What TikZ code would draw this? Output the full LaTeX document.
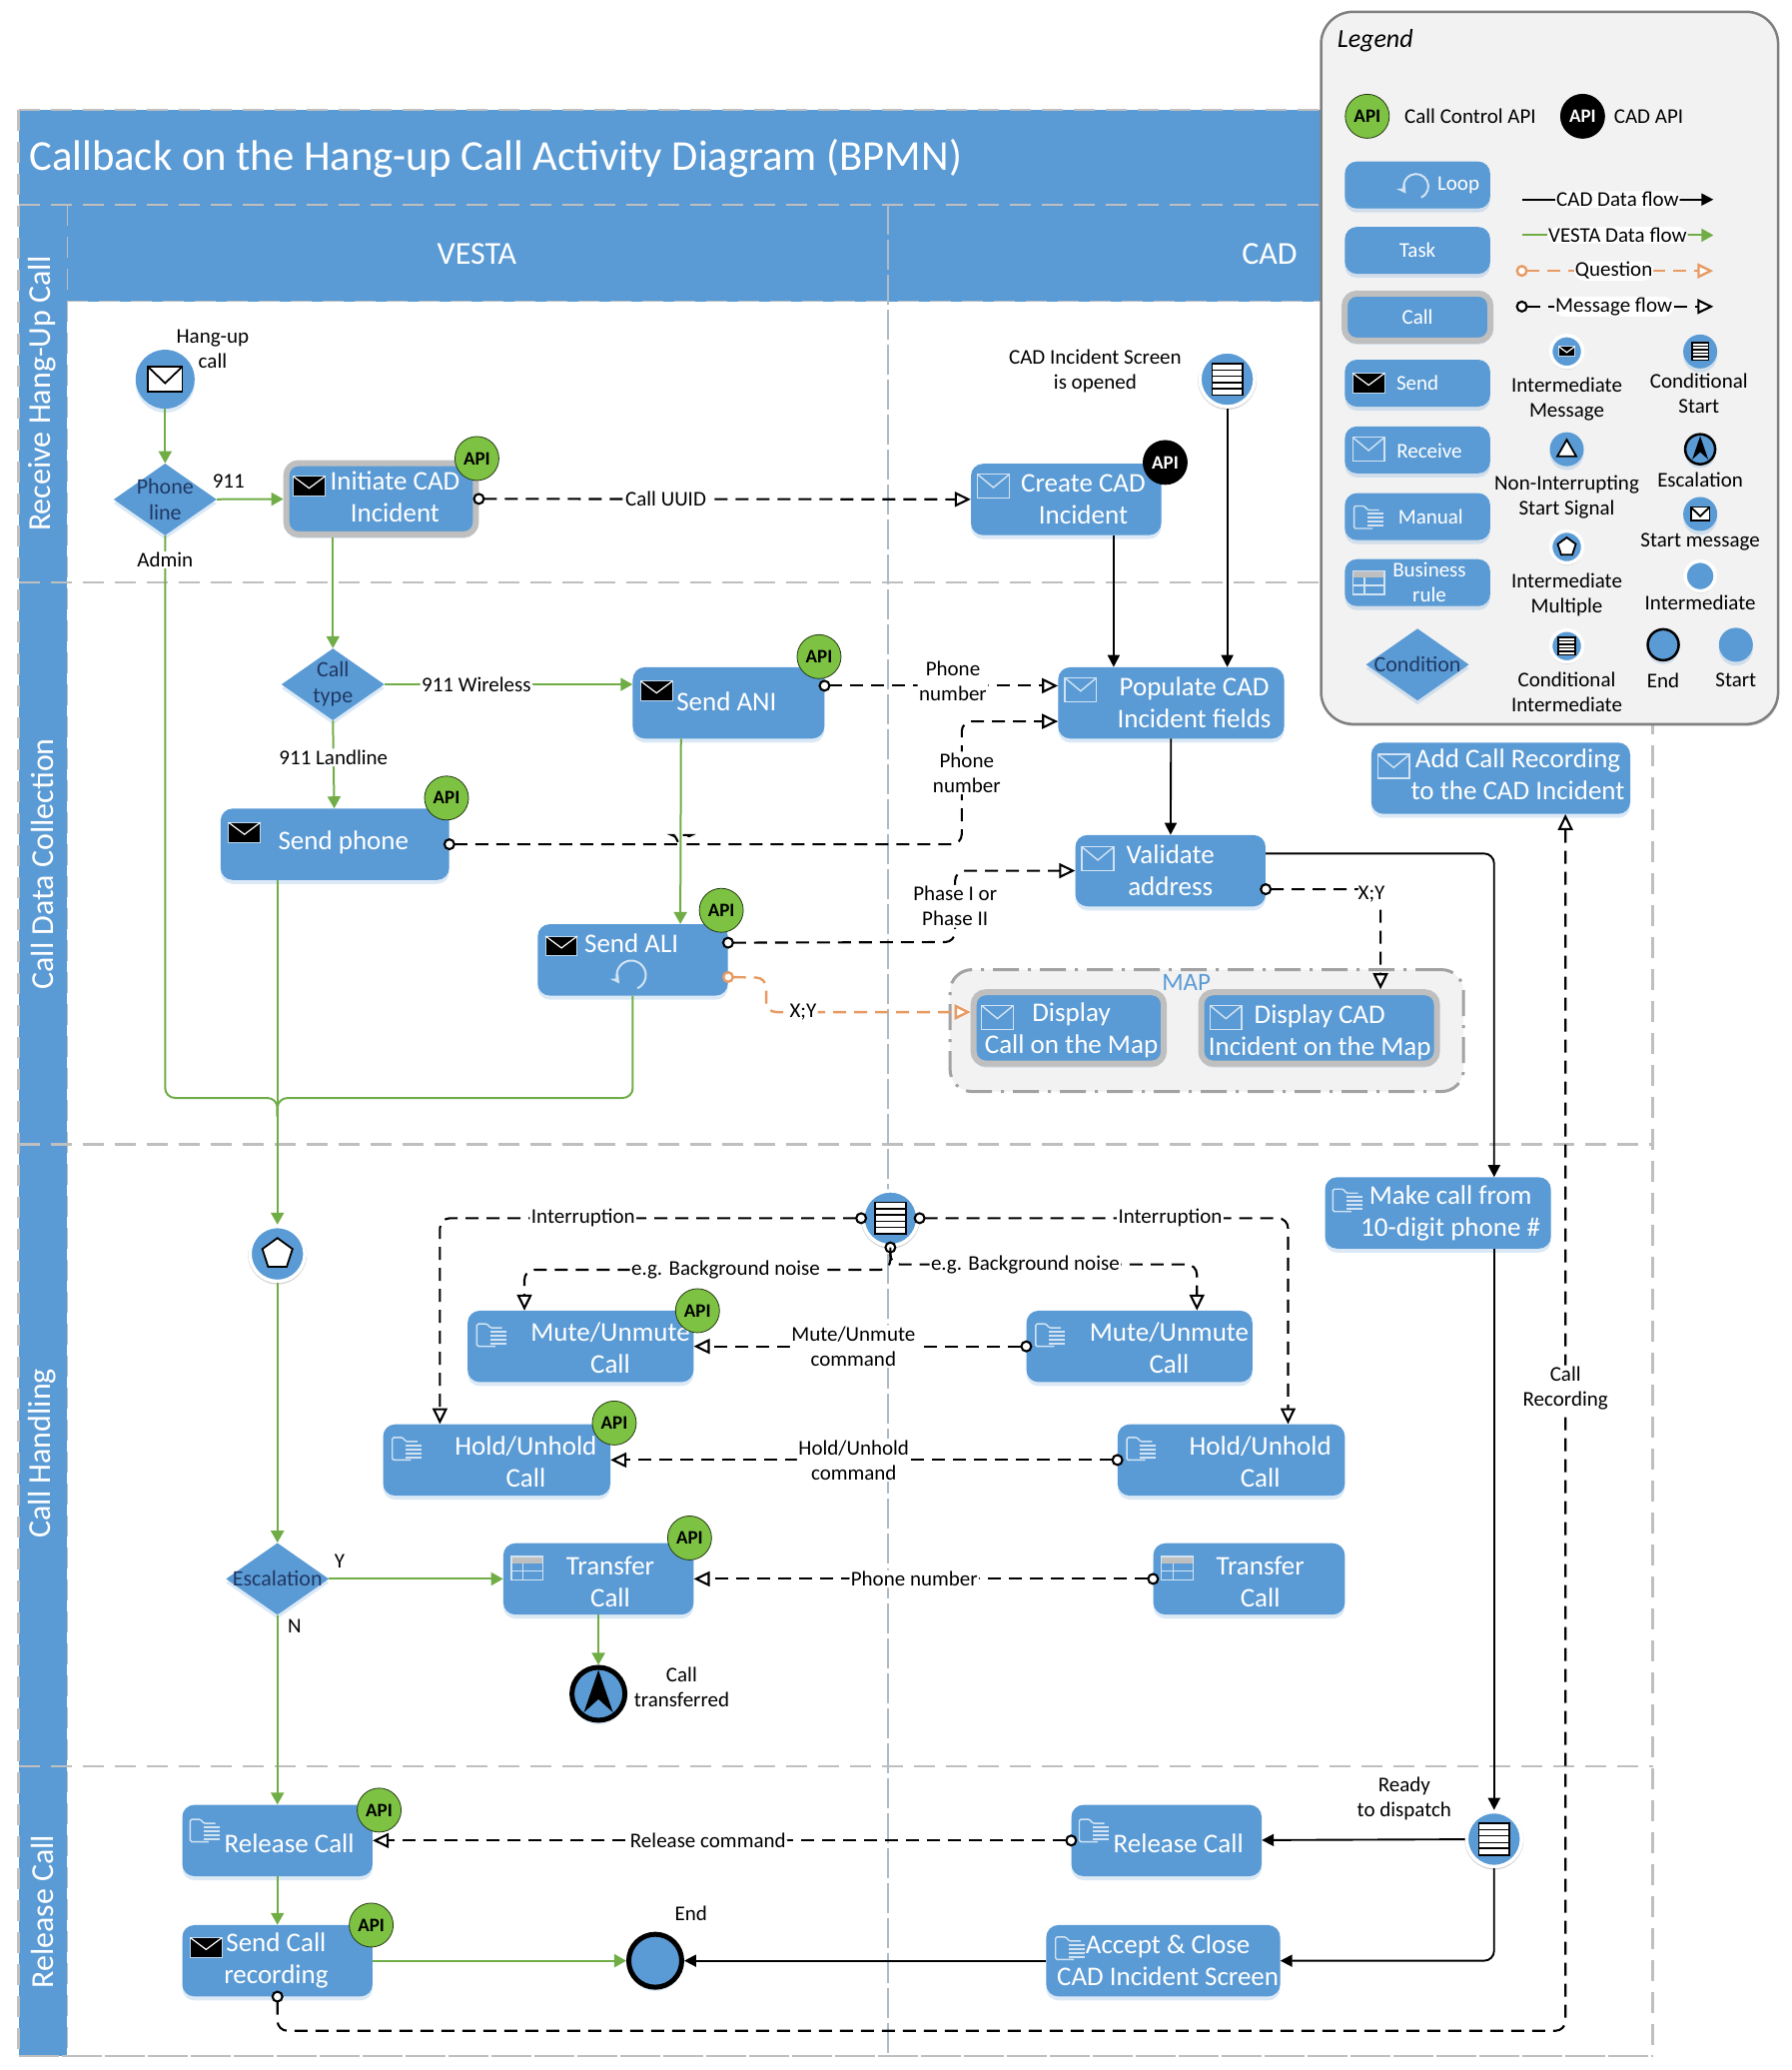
\documentclass[tikz,border=0pt]{standalone}
\usepackage{fontspec}
\setmainfont{Carlito}
\usetikzlibrary{arrows.meta,calc,shapes.geometric,shadows}
\definecolor{bpmnblue}{HTML}{5B9BD5}
\definecolor{flowgreen}{HTML}{70AD47}
\definecolor{apigreen}{HTML}{7DC242}
\definecolor{askorange}{HTML}{E89A63}
\definecolor{callgray}{HTML}{BFBFBF}
\definecolor{paneltint}{HTML}{F2F2F2}
\definecolor{navytext}{HTML}{1F3864}
\tikzset{
  softshadow/.style={drop shadow={shadow xshift=0pt,shadow yshift=-4pt,opacity=.22,fill=bpmnblue}},
  taskbox/.style={rectangle,rounded corners=12pt,fill=bpmnblue,inner sep=0pt,
    minimum height=71.4pt,minimum width=#1*1.3225pt,softshadow},
  callbox/.style={taskbox=#1,draw=callgray,line width=6pt},
  legendbox/.style={taskbox=110,minimum height=47pt},
  tasktext/.style={font=\fontsize{27}{32}\selectfont,text=white,align=center,inner sep=0pt},
  legendtext/.style={font=\fontsize{21}{25}\selectfont,text=white,align=center,inner sep=0pt},
  condshape/.style={diamond,fill=bpmnblue,inner sep=0pt,minimum width=103pt,minimum height=72pt,softshadow},
  condtext/.style={font=\fontsize{22}{26}\selectfont,text=navytext,align=center,inner sep=0pt},
  evt/.style={circle,fill=bpmnblue,inner sep=0pt,minimum size=#1,softshadow},
  ringevt/.style={circle,fill=bpmnblue,inner sep=0pt,minimum size=#1,draw=white,line width=3.5pt,
    drop shadow={shadow xshift=0pt,shadow yshift=-1pt,shadow scale=1.07,opacity=.4,fill=black!45}},
  endevt/.style={evt=#1,draw=black,line width=5pt},
  apibadge/.style={circle,fill=apigreen,draw=black!70!apigreen,line width=.8pt,inner sep=0pt,
    minimum size=44pt,font=\fontsize{19}{20}\selectfont\bfseries},
  apiblack/.style={apibadge,fill=black,draw=black,text=white},
  note/.style={font=\fontsize{21}{25}\selectfont,align=center,inner sep=1pt},
  flowlabel/.style={note,fill=white,inner sep=1.5pt},
  lanedash/.style={draw=callgray,line width=2.5pt,dash pattern=on 21pt off 11pt},
  vestaflow/.style={draw=flowgreen,line width=2pt,rounded corners=10pt,
    -{Triangle[length=12pt,width=13pt,fill=flowgreen]}},
  vestajoin/.style={draw=flowgreen,line width=2pt,rounded corners=10pt},
  cadflow/.style={draw=black,line width=1.9pt,rounded corners=10pt,
    -{Triangle[length=12pt,width=12pt,fill=black]}},
  msgflow/.style={draw=black,line width=2.1pt,rounded corners=10pt,dash pattern=on 13pt off 8pt,shorten <=-6pt,
    {Circle[open,fill=white,length=12pt,width=12pt]}-{Triangle[open,fill=white,length=16pt,width=15pt]}},
  branchflow/.style={msgflow,shorten <=0pt,-{Triangle[open,fill=white,length=16pt,width=15pt]}},
  askflow/.style={msgflow,draw=askorange,line width=2.4pt},
  iconline/.style={draw=white!72!bpmnblue,line width=1.4pt},
  mailblack/.pic={
    \filldraw[fill=black,draw=white!60!bpmnblue,line width=1pt] (-12,-7.5) rectangle (12,7.5);
    \draw[white,line width=1.2pt] (-12,-7.5) -- (0,1.5) -- (12,-7.5);},
  mailline/.pic={
    \draw[iconline] (-12,-9) rectangle (12,9);
    \draw[iconline] (-12,-9) -- (0,1) -- (12,-9);},
  mailwhite/.pic={
    \filldraw[fill=white,draw=black,line width=1.8pt] (-13,-9.5) rectangle (13,9.5);
    \draw[black,line width=1.8pt] (-13,-9.5) -- (0,3) -- (13,-9.5);},
  folderstack/.pic={
    \draw[iconline,rounded corners=1.5pt] (3,9) -- (-11,9) -- (-11,-8) -- (-3,-8) -- (-1,-5) -- (8,-5);
    \foreach \ylev in {-2,1,4,7} {\draw[iconline,line width=2pt] (-1,\ylev) -- (11,\ylev);}},
  ruletable/.pic={
    \fill[callgray] (-12,-9) rectangle (12,-4);
    \draw[iconline] (-12,-9) rectangle (12,9);
    \draw[iconline] (-12,2) -- (12,2) (-3,-4) -- (-3,9);},
  loopmark/.pic={
    \draw[iconline,line width=2pt,-{Stealth[length=9pt,width=10pt]}] (4.5,10) arc[start angle=65,end angle=-215,radius=11];},
  listmark/.pic={
    \filldraw[fill=white,draw=black,line width=1.8pt] (-11.5,-12) rectangle (11.5,12);
    \foreach \ylev in {-7,-2.5,2.5,7} {\draw[black,line width=1.5pt] (-11.5,\ylev) -- (11.5,\ylev);}},
  pentamark/.pic={
    \filldraw[fill=white,draw=black,line width=1.8pt] (90:-12) -- (18:-12) -- (-54:-12) -- (-126:-12) -- (162:-12) -- cycle;},
  trianglemark/.pic={
    \filldraw[fill=white,draw=black,line width=1.8pt] (0,-12) -- (12,9) -- (-12,9) -- cycle;},
  dartmark/.pic={
    \fill[black] (0,-18) -- (11,14) -- (0,4) -- (-11,14) -- cycle;}
}
\begin{document}
\begin{tikzpicture}[x=1.3225pt,y=-1.3225pt]
  \useasboundingbox (0,0) rectangle (1355.8,1566.7);

  % pool bands
  \fill[bpmnblue] (14,83) rectangle (1251,155);
  \fill[bpmnblue] (51,155) rectangle (1251,228);
  \fill[bpmnblue] (14,155) rectangle (51,1556);
  \node[anchor=west,text=white,inner sep=0pt,font=\fontsize{42.7}{48}\selectfont] (title) at (22,120) {Callback on the Hang-up Call Activity Diagram (BPMN)};
  \node[text=white,font=\fontsize{32}{36}\selectfont] (vesta) at (361,192) {VESTA};
  \node[text=white,font=\fontsize{32}{36}\selectfont] (cad) at (961,192) {CAD};
  \node[text=white,rotate=90,font=\fontsize{32}{36}\selectfont] (laneA) at (32,298) {Receive Hang-Up Call};
  \node[text=white,rotate=90,font=\fontsize{32}{36}\selectfont] (laneB) at (32,654) {Call Data Collection};
  \node[text=white,rotate=90,font=\fontsize{32}{36}\selectfont] (laneC) at (32,1100) {Call Handling};
  \node[text=white,rotate=90,font=\fontsize{32}{36}\selectfont] (laneD) at (32,1447) {Release Call};

  % lane lines
  \draw[lanedash] (14,83) -- (1251,83) -- (1251,1556);
  \draw[lanedash] (14,83) -- (14,1556);
  \draw[lanedash,line width=1.5pt] (14,155) -- (1251,155);
  \draw[lanedash,line width=1.5pt] (51,228) -- (1251,228);
  \draw[lanedash,line width=1.5pt] (51,155) -- (51,1556);
  \draw[lanedash] (14,441) -- (1251,441);
  \draw[lanedash] (14,866) -- (1251,866);
  \draw[lanedash] (14,1337) -- (1251,1337);
  \draw[lanedash,dash pattern=on 40pt off 3pt] (14,1556) -- (1251,1556);
  \draw[lanedash,line width=1.6pt,dash pattern=on 30pt off 5pt,draw=callgray!85!bpmnblue] (672,155) -- (672,1556);

  % map group
  \node[rectangle,rounded corners=22pt,fill=paneltint,draw=callgray!85!black,line width=3pt,
    dash pattern=on 26pt off 9pt on 3pt off 9pt,minimum width=514pt,minimum height=122pt] (mapgroup) at (913.5,780) {};
  \node[inner sep=0pt,text=bpmnblue,font=\fontsize{25}{28}\selectfont] (maptext) at (898,744) {MAP};

  % events
  \node[evt=59pt] (hangup) at (125,287) {};
  \pic at (hangup) {mailwhite};
  \node[note] (hanguplbl) at (161,264) {Hang-up\\call};
  \node[ringevt=55pt] (condstart) at (929,287) {};
  \pic at (condstart) {listmark};
  \node[note] (condstartlbl) at (829,281) {CAD Incident Screen\\is opened};
  \node[ringevt=55pt] (multi) at (210,949) {};
  \pic at (multi) {pentamark};
  \node[ringevt=55pt] (condint) at (674,922) {};
  \pic at (condint) {listmark};
  \node[endevt=53pt] (escend) at (453,1282) {};
  \pic at (escend) {dartmark};
  \node[note] (escendlbl) at (516,1277) {Call\\transferred};
  \node[endevt=53pt] (finish) at (496,1484) {};
  \node[note] (finishlbl) at (523,1448) {End};
  \node[ringevt=55pt] (ready) at (1131,1392) {};
  \pic at (ready) {listmark};
  \node[note] (readylbl) at (1063,1361) {Ready\\to dispatch};

  % conditions
  \node[condshape] (phoneline) at (125,378) {};
  \node[condtext] (phonelinetxt) at (phoneline) {Phone\\line};
  \node[condshape] (calltype) at (252,518) {};
  \node[condtext] (calltypetxt) at (calltype) {Call\\type};
  \node[condshape] (escal) at (210,1195) {};
  \node[condtext] (escaltxt) at (escal) {Escalation};
  \node[note] (lblnine) at (173,364) {911};
  \node[note] (lbly) at (257,1182) {Y};
  \node[note] (lbln) at (223,1231) {N};

  % receive lane
  \node[callbox=143.5] (initcad) at (288.5,377.5) {};
  \pic at (234,368) {mailblack};
  \node[tasktext] (initcadtxt) at (299,376) {Initiate CAD\\Incident};
  \node[taskbox=144] (create) at (807,378) {};
  \pic at (752,368) {mailline};
  \node[tasktext] (createtxt) at (820,378) {Create CAD\\Incident};

  % data collection lane
  \node[taskbox=171] (populate) at (886.5,532) {};
  \pic at (818,522) {mailline};
  \node[tasktext] (populatetxt) at (904,532) {Populate CAD\\Incident fields};
  \node[taskbox=145] (ani) at (551.5,532) {};
  \pic at (497,523) {mailblack};
  \node[tasktext] (anitxt) at (550,531) {Send ANI};
  \node[taskbox=173] (sendphone) at (253.5,639) {};
  \pic at (185,630) {mailblack};
  \node[tasktext] (sendphonetxt) at (260,638) {Send phone};
  \node[taskbox=144] (ali) at (479,726.5) {};
  \pic at (425,716) {mailblack};
  \node[tasktext] (alitxt) at (478,714) {Send ALI};
  \pic at (478,738) {loopmark};
  \node[taskbox=144] (validate) at (886,659) {};
  \pic at (831,650) {mailline};
  \node[tasktext] (validatetxt) at (886,659) {Validate\\address};
  \node[taskbox=196] (addrec) at (1136,589) {};
  \pic at (1055,580) {mailline};
  \node[tasktext] (addrectxt) at (1149,586) {Add Call Recording\\to the CAD Incident};
  \node[callbox=144] (dispcall) at (809,778) {};
  \pic at (755,770) {mailline};
  \node[tasktext] (dispcalltxt) at (811,780) {Display\\Call on the Map};
  \node[callbox=178.5] (dispcad) at (998.5,778) {};
  \pic at (928,770) {mailline};
  \node[tasktext] (dispcadtxt) at (999,781) {Display CAD\\Incident on the Map};

  % call handling lane
  \node[taskbox=171] (make) at (1088.5,918) {};
  \pic at (1020,908) {folderstack};
  \node[tasktext] (maketxt) at (1098,918) {Make call from\\10-digit phone \#};
  \node[taskbox=171] (muteL) at (439.5,1019) {};
  \pic at (372,1010) {folderstack};
  \node[tasktext] (muteLtxt) at (462,1020) {Mute/Unmute\\Call};
  \node[taskbox=171] (muteR) at (862.5,1019) {};
  \pic at (795,1010) {folderstack};
  \node[tasktext] (muteRtxt) at (885,1020) {Mute/Unmute\\Call};
  \node[taskbox=172] (holdL) at (376,1105) {};
  \pic at (308,1096) {folderstack};
  \node[tasktext] (holdLtxt) at (398,1106) {Hold/Unhold\\Call};
  \node[taskbox=172] (holdR) at (932,1105) {};
  \pic at (864,1096) {folderstack};
  \node[tasktext] (holdRtxt) at (954,1106) {Hold/Unhold\\Call};
  \node[taskbox=144] (transL) at (453,1195) {};
  \pic at (399,1187) {ruletable};
  \node[tasktext] (transLtxt) at (462,1197) {Transfer\\Call};
  \node[taskbox=145] (transR) at (945.5,1195) {};
  \pic at (891,1187) {ruletable};
  \node[tasktext] (transRtxt) at (954,1197) {Transfer\\Call};

  % release lane
  \node[taskbox=144] (relL) at (210,1393) {};
  \pic at (155,1385) {folderstack};
  \node[tasktext] (relLtxt) at (219,1395) {Release Call};
  \node[taskbox=144] (sendrec) at (210,1484) {};
  \pic at (156,1474) {mailblack};
  \node[tasktext] (sendrectxt) at (209,1484) {Send Call\\recording};
  \node[taskbox=144] (relR) at (883,1393) {};
  \pic at (828,1385) {folderstack};
  \node[tasktext] (relRtxt) at (892,1395) {Release Call};
  \node[taskbox=177] (accept) at (880.5,1484) {};
  \pic at (810,1474) {folderstack};
  \node[tasktext] (accepttxt) at (884,1484) {Accept \& Close\\CAD Incident Screen};

  % vesta flows
  \coordinate (joinA) at (210,845);
  \draw[vestaflow] (hangup) -- (phoneline);
  \draw[vestaflow] (phoneline) -- (initcad);
  \draw[vestaflow] (calltype |- initcad.south) -- (calltype.north);
  \draw[vestaflow] (calltype) -- node[flowlabel,pos=.37] (lblwireless) {911 Wireless} (ani.west |- calltype);
  \draw[vestaflow] (calltype.south) -- node[flowlabel,pos=.42] (lbllandline) {911 Landline} ($(sendphone.north)+(-0.5,0)$);
  \draw[vestaflow] ($(ani.south)+(-36,0)$) -- ($(ali.north)+(36,0)$);
  \draw[vestajoin] (phoneline.south) -- (125,831) -- (210,831) -- (joinA);
  \draw[vestajoin] (ali.south) -- (479,831) -- (210,831) -- (joinA);
  \draw[vestaflow] (multi |- sendphone.south) -- (multi.north);
  \draw[vestaflow] (multi.south) -- (escal.north);
  \draw[vestaflow] (escal) -- (transL);
  \draw[vestaflow] (escal.south) -- (relL.north);
  \draw[vestaflow] (relL) -- (sendrec);
  \draw[vestaflow] (sendrec) -- (finish);
  \draw[vestaflow] (escend |- transL.south) -- (escend.north);
  \node[note,fill=white] (lbladmin) at (125,424) {Admin};

  % cad flows
  \draw[cadflow] ($(create.south)+(36,0)$) -- ($(populate.north)+(-43.5,0)$);
  \draw[cadflow] (condstart) -- (condstart |- populate.north);
  \draw[cadflow] (populate) -- (validate);
  \draw[cadflow] ($(validate.east)+(0,-13)$) -- (1131,646) -- ($(make.north)+(42.5,0)$);
  \draw[cadflow] (ready |- make.south) -- (ready.north);
  \draw[cadflow] (ready) -- (relR);
  \draw[cadflow] (ready.south) -- (1131,1484) -- (accept);
  \draw[cadflow] (accept) -- (finish);

  % message flows
  \draw[msgflow] (initcad) -- node[flowlabel,pos=.38] (lbluuid) {Call UUID} (create);
  \draw[msgflow] ($(ani.east)+(0,-13)$) -- node[flowlabel,pos=.55,yshift=4.5pt] (lblphoneA) {Phone\\number} ($(populate.west)+(0,-13)$);
  \draw[msgflow] (sendphone) -- (508,639) .. controls (512,639) and (513,632) .. (516,632) .. controls (519,632) and (521,639) .. (527,639)
    -- (728,639) -- node[flowlabel,pos=.58,xshift=5pt] (lblphoneB) {Phone\\number} (728,546) -- ($(populate.west)+(0,14)$);
  \draw[msgflow] ($(ali.east)+(0,-13)$) -- (723,713) -- node[flowlabel,pos=.5] (lblphase) {Phase I or\\Phase II} (723,659) -- (validate);
  \draw[msgflow] ($(validate.east)+(0,14)$) -- (1045,673) -- node[flowlabel,pos=.05,xshift=-9pt] (lblxya) {X;Y} ($(dispcad.north)+(46.5,0)$);
  \draw[askflow] ($(ali.east)+(0,13)$) -- (580,740) -- (580,766) -- node[flowlabel,pos=.18] (lblxyb) {X;Y} ($(dispcall.west)+(0,-12)$);
  \draw[msgflow] (condint.west) -- node[flowlabel,pos=.66] (lblintA) {Interruption} (333,922) -- ($(holdL.north)+(-43,0)$);
  \draw[msgflow] (condint.east) -- node[flowlabel,pos=.68] (lblintB) {Interruption} (975,922) -- ($(holdR.north)+(43,0)$);
  \draw[msgflow] (condint.south) -- (674,961) -- node[flowlabel,pos=.45] (lblnoiseA) {e.g. Background noise} (397,961) -- ($(muteL.north)+(-42.5,0)$);
  \draw[branchflow] (condint.south) -- (674,957) -- node[flowlabel,pos=.44] (lblnoiseB) {e.g. Background noise} (906,957) -- ($(muteR.north)+(43.5,0)$);
  \draw[msgflow] (muteR) -- node[flowlabel,pos=.52] (lblmute) {Mute/Unmute\\command} (muteL);
  \draw[msgflow] (holdR) -- node[flowlabel,pos=.52] (lblhold) {Hold/Unhold\\command} (holdL);
  \draw[msgflow] (transR) -- node[flowlabel,pos=.52] (lbltrans) {Phone number} (transL);
  \draw[msgflow] (relR) -- node[flowlabel,pos=.52] (lblrel) {Release command} (relL);
  \draw[msgflow] (sendrec.south) -- (210,1537) -- (1185,1537) -- node[flowlabel,pos=.528] (lblrec) {Call\\Recording} ($(addrec.south)+(49,0)$);

  % api badges
  \node[apibadge] (apiinit) at (361,347) {API};
  \node[apiblack] (apicreate) at (882,350) {API};
  \node[apibadge] (apiani) at (620,497) {API};
  \node[apibadge] (apiphone) at (338,604) {API};
  \node[apibadge] (apiali) at (546,689) {API};
  \node[apibadge] (apimute) at (528,992) {API};
  \node[apibadge] (apihold) at (465,1077) {API};
  \node[apibadge] (apitrans) at (522,1164) {API};
  \node[apibadge] (apirel) at (287,1370) {API};
  \node[apibadge] (apirec) at (281,1457) {API};

  % legend panel
  \node[rectangle,rounded corners=32pt,fill=paneltint,draw=black!50,line width=2.5pt,
    minimum width=457.5pt,minimum height=713pt,drop shadow={shadow xshift=1pt,shadow yshift=-2pt,opacity=.3}] (legend) at (1173,278.5) {};
  \node[note,font=\fontsize{26}{30}\selectfont\itshape] (legendtitle) at (1041,31) {Legend};
  \node[apibadge] (legapi) at (1035,88) {API};
  \node[note] (legapitxt) at (1113,88) {Call Control API};
  \node[apiblack] (legcad) at (1198,88) {API};
  \node[note] (legcadtxt) at (1248,88) {CAD API};

  \node[legendbox] (legloop) at (1073,140) {};
  \pic[scale=.85] at (1072,141) {loopmark};
  \node[legendtext] (leglooptxt) at (1104,140) {Loop};
  \node[legendbox] (legtask) at (1073,189.5) {};
  \node[legendtext] (legtasktxt) at (legtask) {Task};
  \node[legendbox,draw=callgray,line width=6pt,minimum width=146pt,minimum height=47pt] (legcall) at (1073,240) {};
  \node[legendtext] (legcalltxt) at (legcall) {Call};
  \node[legendbox] (legsend) at (1073,290) {};
  \pic at (1036,290) {mailblack};
  \node[legendtext] (legsendtxt) at (legsend) {Send};
  \node[legendbox] (legrecv) at (1073,340.5) {};
  \pic at (1036,340) {mailline};
  \node[legendtext] (legrecvtxt) at (1082,341) {Receive};
  \node[legendbox] (legmanual) at (1073,391) {};
  \pic at (1036,391) {folderstack};
  \node[legendtext] (legmanualtxt) at (1083,391) {Manual};
  \node[legendbox] (legrule) at (1073,441) {};
  \pic at (1036,441) {ruletable};
  \node[legendtext] (legruletxt) at (1082,441) {Business\\rule};
  \node[condshape] (legcond) at (1073,503) {};
  \node[condtext] (legcondtxt) at (legcond) {Condition};

  \coordinate (cadA) at (1152,151);
  \coordinate (cadB) at (1297,151);
  \draw[cadflow] (cadA) -- node[flowlabel,inner sep=1pt] (legflowA) {CAD Data flow} (cadB);
  \coordinate (vestaA) at (1152,178);
  \coordinate (vestaB) at (1297,178);
  \draw[vestaflow] (vestaA) -- node[flowlabel,inner sep=1pt] (legflowB) {VESTA Data flow} (vestaB);
  \coordinate (askA) at (1152,205);
  \coordinate (askB) at (1297,205);
  \draw[askflow] (askA) -- node[flowlabel,inner sep=1pt,pos=.48] (legflowC) {Question} (askB);
  \coordinate (msgA) at (1152,232);
  \coordinate (msgB) at (1297,232);
  \draw[msgflow] (msgA) -- node[flowlabel,inner sep=1pt,pos=.48] (legflowD) {Message flow} (msgB);

  \node[ringevt=32pt] (legimsg) at (1186,266) {};
  \pic[scale=.5] at (legimsg) {mailblack};
  \node[note] (legimsgtxt) at (1186,302) {Intermediate\\Message};
  \node[evt=34pt] (legcstart) at (1287,266) {};
  \pic[scale=.55] at (legcstart) {listmark};
  \node[note] (legcstarttxt) at (1286,298) {Conditional\\Start};
  \node[evt=34pt] (legnonint) at (1186,340) {};
  \pic[scale=.6] at (legnonint) {trianglemark};
  \node[note] (legnoninttxt) at (1186,376) {Non-Interrupting\\Start Signal};
  \node[endevt=30pt,line width=2.5pt] (legesc) at (1287,340) {};
  \pic[scale=.55] at (legesc) {dartmark};
  \node[note] (legesctxt) at (1287,363) {Escalation};
  \node[evt=34pt] (legsmsg) at (1287,389) {};
  \pic[scale=.55] at (legsmsg) {mailwhite};
  \node[note] (legsmsgtxt) at (1287,410) {Start message};
  \node[ringevt=32pt] (legmulti) at (1186,414) {};
  \pic[scale=.6] at (legmulti) {pentamark};
  \node[note] (legmultitxt) at (1186,450) {Intermediate\\Multiple};
  \node[ringevt=30pt] (leginter) at (1287,436) {};
  \node[note] (legintertxt) at (1287,456) {Intermediate};
  \node[ringevt=32pt] (legcint) at (1186,489) {};
  \pic[scale=.55] at (legcint) {listmark};
  \node[note] (legcinttxt) at (1186,524) {Conditional\\Intermediate};
  \node[endevt=31pt,line width=2.5pt] (legendmark) at (1259,488) {};
  \node[note] (legendmarktxt) at (1259,515) {End};
  \node[evt=34pt] (legstart) at (1314,488) {};
  \node[note] (legstarttxt) at (1314,515) {Start};
\end{tikzpicture}
\end{document}
